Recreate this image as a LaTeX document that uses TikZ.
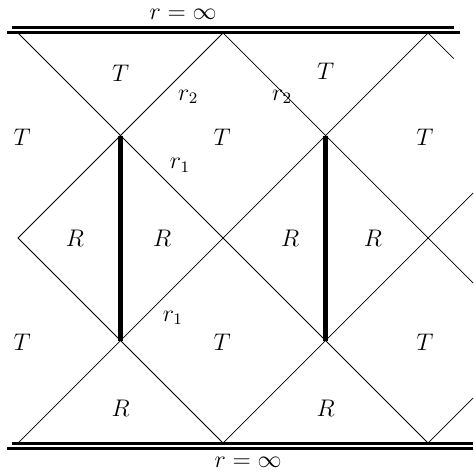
\documentclass[tikz,border=0pt]{standalone}
\begin{document}
\begin{tikzpicture}[
                x=1.8cm, y=1.8cm,
                nullline/.style={
                    draw=black,
                    line width=0.4pt
                },
                boundary/.style={
                    draw=black,
                    line width=1.5pt
                },
                wall/.style={
                    draw=black,
                    line width=2.6pt
                },
                region/.style={
                    inner sep=0pt,
                    font=\large
                }
            ]
                \useasboundingbox (-0.176,-0.302) rectangle (4.439,4.322);

                % vertices of the diagram
                \coordinate (top0) at (0,4);
                \coordinate (top1) at (2,4);
                \coordinate (top2) at (4,4);
                \coordinate (mid0) at (0,2);
                \coordinate (mid1) at (2,2);
                \coordinate (mid2) at (4,2);
                \coordinate (bot0) at (0,0);
                \coordinate (bot1) at (2,0);
                \coordinate (bot2) at (4,0);
                \coordinate (wallAtop) at (1,3);
                \coordinate (wallAbot) at (1,1);
                \coordinate (wallBtop) at (3,3);
                \coordinate (wallBbot) at (3,1);
                \coordinate (edgeTop) at (4.25,3.75);
                \coordinate (edgeUp) at (4.439,2.439);
                \coordinate (edgeDown) at (4.439,1.561);
                \coordinate (edgeBot) at (4.439,0.439);

                % r = infinity
                \draw[boundary] (-0.059,4.049) -- (4.254,4.049);
                \draw[boundary] (-0.107,4.0) -- (4.312,4.0);
                \draw[boundary] (-0.059,0) -- (4.439,0);
                \draw[boundary] (-0.107,-0.049) -- (4.439,-0.049);

                % null lines
                \draw[nullline] (top0) -- (wallAtop) -- (mid1) -- (wallBbot) -- (bot2);
                \draw[nullline] (top1) -- (wallAtop) -- (mid0) -- (wallAbot) -- (bot1);
                \draw[nullline] (top1) -- (wallBtop) -- (mid2) -- (edgeDown);
                \draw[nullline] (top2) -- (wallBtop) -- (mid1) -- (wallAbot) -- (bot0);
                \draw[nullline] (top2) -- (edgeTop);
                \draw[nullline] (bot1) -- (wallBbot) -- (mid2) -- (edgeUp);
                \draw[nullline] (bot2) -- (edgeBot);

                % walls
                \draw[wall] (wallAtop) -- (wallAbot);
                \draw[wall] (wallBtop) -- (wallBbot);

                % labels
                \node[region] (inftop) at (1.61,4.18) {$r=\infty$};
                \node[region] (infbot) at (2.244,-0.185) {$r=\infty$};

                \node[region] (t1) at (1,3.61) {$T$};
                \node[region] (t2) at (3,3.63) {$T$};
                \node[region] (t3) at (0.04,2.985) {$T$};
                \node[region] (t4) at (1.99,2.985) {$T$};
                \node[region] (t5) at (3.97,2.985) {$T$};
                \node[region] (t6) at (0.04,0.985) {$T$};
                \node[region] (t7) at (1.99,0.985) {$T$};
                \node[region] (t8) at (3.97,0.985) {$T$};

                \node[region] (r1) at (0.556,2) {$R$};
                \node[region] (r2) at (1.405,2) {$R$};
                \node[region] (r3) at (2.654,2) {$R$};
                \node[region] (r4) at (3.463,2) {$R$};
                \node[region] (r5) at (1,0.34) {$R$};
                \node[region] (r6) at (3,0.34) {$R$};

                \node[region] (rad2a) at (1.66,3.376) {$r_2$};
                \node[region] (rad2b) at (2.576,3.376) {$r_2$};
                \node[region] (rad1a) at (1.58,2.71) {$r_1$};
                \node[region] (rad1b) at (1.51,1.22) {$r_1$};
        \end{tikzpicture}
\end{document}
